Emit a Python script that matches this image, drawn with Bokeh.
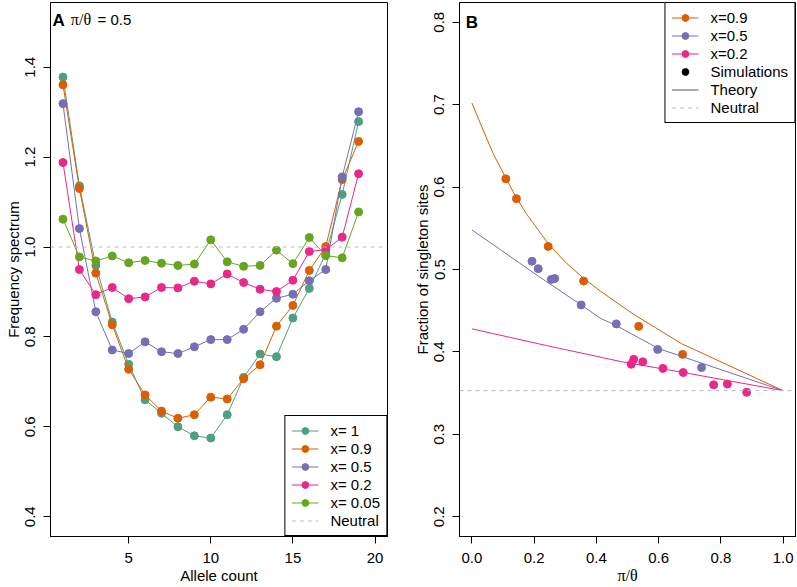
from bokeh.plotting import figure
from bokeh.models import (Span, Legend, LegendItem, FixedTicker, PrintfTickFormatter,
                          Label, Range1d)
from bokeh.layouts import row
from bokeh.embed import file_html
from bokeh.resources import INLINE

FONT = "Liberation Sans"
SERIF = "Liberation Serif"
NAN = float("nan")

# ---------------- Panel A data ----------------
allele_count = list(range(1, 20))
spec_x1   = [1.378, 1.136, 0.959, 0.833, 0.739, 0.660, 0.630, 0.600, 0.580, 0.575,
             0.627, 0.710, 0.762, 0.756, 0.842, 0.908, 0.985, 1.117, 1.279]
spec_x09  = [1.361, 1.130, 0.942, 0.827, 0.728, 0.671, 0.635, 0.619, 0.627, 0.666,
             0.662, 0.707, 0.738, 0.824, 0.870, 0.948, 1.001, 1.150, 1.235]
spec_x05  = [1.319, 1.041, 0.856, 0.771, 0.763, 0.789, 0.767, 0.763, 0.778, 0.794,
             0.794, 0.817, 0.856, 0.886, 0.895, 0.925, 0.950, 1.156, 1.301]
spec_x02  = [1.188, 0.950, 0.894, 0.910, 0.885, 0.889, 0.910, 0.909, 0.924, 0.918,
             0.940, 0.921, 0.906, 0.901, 0.926, 0.990, 0.994, 1.022, 1.163]
spec_x005 = [1.062, 0.978, 0.969, 0.980, 0.965, 0.970, 0.964, 0.959, 0.962, 1.016,
             0.967, 0.957, 0.959, 0.993, 0.963, 1.021, 0.981, 0.976, 1.078]
labels_A = ["x= 1", "x= 0.9", "x= 0.5", "x= 0.2", "x= 0.05"]
colors_A = ["#4FA07F", "#D95F02", "#7570B3", "#E7298A", "#66A61E"]
neutral_A = 1.0
xticks_A = [5, 10, 15, 20]
yticks_A = [0.4, 0.6, 0.8, 1.0, 1.2, 1.4]

# ---------------- Panel B data ----------------
sim_x09_x = [0.109, 0.143, 0.245, 0.359, 0.536, 0.677]
sim_x09_y = [0.610, 0.586, 0.528, 0.486, 0.431, 0.397]
sim_x05_x = [0.193, 0.213, 0.255, 0.266, 0.351, 0.464, 0.597, 0.738]
sim_x05_y = [0.510, 0.501, 0.488, 0.489, 0.457, 0.434, 0.403, 0.381]
sim_x02_x = [0.512, 0.520, 0.549, 0.614, 0.679, 0.777, 0.821, 0.883]
sim_x02_y = [0.385, 0.391, 0.388, 0.380, 0.375, 0.360, 0.361, 0.351]

th_x09_x = [0.0, 0.035, 0.069, 0.109, 0.143, 0.176, 0.246, 0.30, 0.36, 0.412, 0.518, 0.674, 1.0]
th_x09_y = [0.702, 0.670, 0.640, 0.611, 0.587, 0.567, 0.531, 0.509, 0.489, 0.474, 0.446, 0.410, 0.353]
th_x05_x = [0.0, 0.088, 0.213, 0.351, 0.412, 0.464, 0.6, 1.0]
th_x05_y = [0.548, 0.525, 0.492, 0.457, 0.441, 0.432, 0.404, 0.353]
th_x02_x = [0.0, 0.236, 0.482, 0.68, 1.0]
th_x02_y = [0.428, 0.408, 0.388, 0.375, 0.353]
labels_B = ["x=0.9", "x=0.5", "x=0.2"]
colors_B = ["#D95F02", "#7570B3", "#E7298A"]
neutral_B = 0.353
xticks_B = [0.0, 0.2, 0.4, 0.6, 0.8, 1.0]
yticks_B = [0.2, 0.3, 0.4, 0.5, 0.6, 0.7, 0.8]

NEUTRAL_COLOR = "#BBBBC4"


def style(p, xticks, yticks, xfmt, yfmt):
    p.outline_line_color = "black"
    p.outline_line_alpha = 1
    p.outline_line_width = 1
    p.xgrid.visible = False
    p.ygrid.visible = False
    p.background_fill_color = "white"
    p.border_fill_color = "white"
    for ax in (p.xaxis[0], p.yaxis[0]):
        ax.axis_line_color = "black"
        ax.major_tick_line_color = "black"
        ax.major_tick_in = 0
        ax.major_tick_out = 7
        ax.minor_tick_line_color = None
        ax.major_label_text_font = FONT
        ax.major_label_text_font_size = "15px"
        ax.major_label_text_color = "black"
        ax.axis_label_text_font = FONT
        ax.axis_label_text_font_size = "15px"
        ax.axis_label_text_font_style = "normal"
        ax.axis_label_text_color = "black"
        ax.axis_label_standoff = 1
    p.xaxis[0].major_label_standoff = 9
    p.yaxis[0].major_label_standoff = 8
    p.xaxis[0].ticker = FixedTicker(ticks=xticks)
    p.yaxis[0].ticker = FixedTicker(ticks=yticks)
    p.xaxis[0].formatter = PrintfTickFormatter(format=xfmt)
    p.yaxis[0].formatter = PrintfTickFormatter(format=yfmt)
    p.yaxis[0].major_label_orientation = "vertical"


def make_legend(items, loc):
    lg = Legend(items=items, location=loc)
    lg.margin = 0
    lg.padding = 6
    lg.spacing = 1
    lg.glyph_width = 27
    lg.glyph_height = 17
    lg.label_height = 17
    lg.label_standoff = 12
    lg.label_text_font = FONT
    lg.label_text_font_size = "15px"
    lg.label_text_color = "black"
    lg.border_line_color = "black"
    lg.border_line_width = 1
    lg.border_line_alpha = 1
    lg.background_fill_alpha = 1
    return lg


H = 587

# ---------------- Panel A ----------------
pA = figure(width=409, height=H, output_backend="svg", toolbar_location=None,
            x_range=Range1d(0.24, 20.76), y_range=Range1d(0.356, 1.544),
            min_border_top=2, min_border_right=22, min_border_left=50, min_border_bottom=51)
style(pA, xticks_A, yticks_A, "%d", "%.1f")
pA.xaxis.axis_label = "Allele count"
pA.yaxis.axis_label = "Frequency spectrum"

pA.add_layout(Span(location=neutral_A, dimension="width", line_color=NEUTRAL_COLOR,
                   line_dash="4 4", line_width=1))

items_A = []
for series, lab, col in zip([spec_x1, spec_x09, spec_x05, spec_x02, spec_x005], labels_A, colors_A):
    lr = pA.line(allele_count, series, line_color=col, line_width=1)
    sr = pA.scatter(allele_count, series, marker="circle", size=8,
                    fill_color=col, line_color=col)
    items_A.append(LegendItem(label=lab, renderers=[lr, sr]))
neutral_leg_A = pA.line(x=[NAN], y=[NAN], line_color=NEUTRAL_COLOR, line_dash="4 4", line_width=1)
items_A.append(LegendItem(label="Neutral", renderers=[neutral_leg_A]))
pA.add_layout(make_legend(items_A, "bottom_right"))

pA.add_layout(Label(x=0.36, y=1.524, text="A", text_font=FONT, text_font_size="17px",
                    text_font_style="bold", text_baseline="top", text_color="black"))
pA.add_layout(Label(x=1.48, y=1.524, text="π/θ", text_font=SERIF, text_font_size="16px",
                    text_baseline="top", text_color="black"))
pA.add_layout(Label(x=3.1, y=1.524, text="= 0.5", text_font=FONT, text_font_size="15px",
                    text_baseline="top", text_color="black"))

# ---------------- Panel B ----------------
pB = figure(width=387, height=H, output_backend="svg", toolbar_location=None,
            x_range=Range1d(-0.04, 1.04), y_range=Range1d(0.176, 0.824),
            min_border_top=2, min_border_right=1, min_border_left=50, min_border_bottom=51)
style(pB, xticks_B, yticks_B, "%.1f", "%.1f")
pB.xaxis.axis_label = "π/θ"
pB.xaxis[0].axis_label_text_font = SERIF
pB.xaxis[0].axis_label_text_font_size = "16px"
pB.yaxis.axis_label = "Fraction of singleton sites"

pB.add_layout(Span(location=neutral_B, dimension="width", line_color=NEUTRAL_COLOR,
                   line_dash="4 4", line_width=1))

items_B = []
for tx, ty, sx, sy, lab, col in zip([th_x09_x, th_x05_x, th_x02_x], [th_x09_y, th_x05_y, th_x02_y],
                                    [sim_x09_x, sim_x05_x, sim_x02_x], [sim_x09_y, sim_x05_y, sim_x02_y],
                                    labels_B, colors_B):
    lr = pB.line(tx, ty, line_color=col, line_width=1)
    sr = pB.scatter(sx, sy, marker="circle", size=8, fill_color=col, line_color=col)
    items_B.append(LegendItem(label=lab, renderers=[lr, sr]))
sim_leg = pB.scatter(x=[NAN], y=[NAN], marker="circle", size=8, fill_color="black", line_color="black")
th_leg = pB.line(x=[NAN], y=[NAN], line_color="#555555", line_width=1)
neu_leg = pB.line(x=[NAN], y=[NAN], line_color=NEUTRAL_COLOR, line_dash="4 4", line_width=1)
items_B.append(LegendItem(label="Simulations", renderers=[sim_leg]))
items_B.append(LegendItem(label="Theory", renderers=[th_leg]))
items_B.append(LegendItem(label="Neutral", renderers=[neu_leg]))
pB.add_layout(make_legend(items_B, "top_right"))

pB.add_layout(Label(x=-0.02, y=0.811, text="B", text_font=FONT, text_font_size="17px",
                    text_font_style="bold", text_baseline="top", text_color="black"))

layout = row(pA, pB, spacing=0)
open("out.html", "w").write(file_html(layout, INLINE))
